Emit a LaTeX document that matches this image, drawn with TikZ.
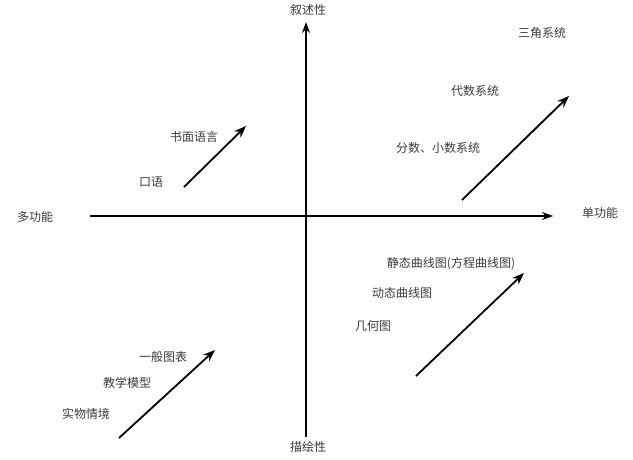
\documentclass[tikz,border=0pt]{standalone}
\usepackage{fontspec}
\setmainfont{Noto Sans CJK SC}
\usetikzlibrary{arrows.meta}
\definecolor{txt}{HTML}{3A3A3A}
\tikzset{
  lbl/.style={font=\fontsize{12}{14}\selectfont, text=txt, inner sep=0pt},
  axis/.style={line width=1.6pt, -{Stealth[length=11pt,width=8pt]}},
  trend/.style={line width=1.8pt, -{Stealth[length=12pt,width=9pt]}}
}
\begin{document}
\begin{tikzpicture}[x=1pt,y=-1pt]
\useasboundingbox (0,0) rectangle (633,459);
% axes
\coordinate (vb) at (306,437);
\coordinate (vt) at (306,22);
\coordinate (hl) at (90,216);
\coordinate (hr) at (553,216);
\draw[axis] (vb) -- (vt);
\draw[axis] (hl) -- (hr);
\node[lbl] (top) at (308,10) {叙述性};
\node[lbl] (bottom) at (308,447) {描绘性};
\node[lbl] (left) at (35,217) {多功能};
\node[lbl] (right) at (600,213) {单功能};
% upper left
\coordinate (a1) at (184,187);
\coordinate (a2) at (246,126);
\draw[trend] (a1) -- (a2);
\node[lbl] (kouyu) at (151,182) {口语};
\node[lbl] (shumian) at (194,137) {书面语言};
% upper right
\coordinate (b1) at (462,200);
\coordinate (b2) at (569,96);
\draw[trend] (b1) -- (b2);
\node[lbl] (sanjiao) at (542,33) {三角系统};
\node[lbl] (daishu) at (475,91) {代数系统};
\node[lbl] (fenshu) at (438,148) {分数、小数系统};
% lower right
\coordinate (c1) at (416,376);
\coordinate (c2) at (524,273);
\draw[trend] (c1) -- (c2);
\node[lbl] (jingtai) at (451,264) {静态曲线图(方程曲线图)};
\node[lbl] (dongtai) at (402,293) {动态曲线图};
\node[lbl] (jihe) at (373,326) {几何图};
% lower left
\coordinate (d1) at (119,438);
\coordinate (d2) at (215,350);
\draw[trend] (d1) -- (d2);
\node[lbl] (yiban) at (163,357) {一般图表};
\node[lbl] (jiaoxue) at (127,383) {教学模型};
\node[lbl] (shiwu) at (86,414) {实物情境};
\end{tikzpicture}
\end{document}
